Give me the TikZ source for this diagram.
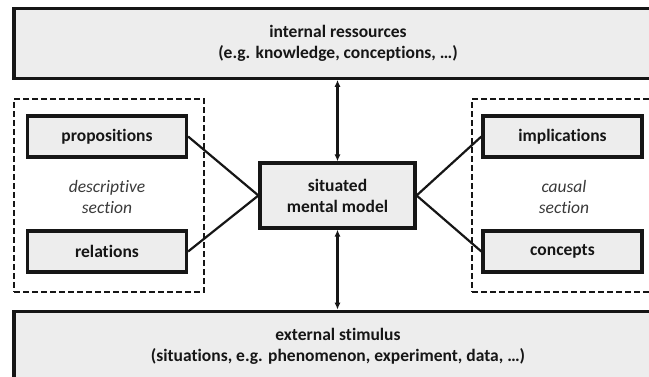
\documentclass[tikz,border=0pt]{standalone}
\usepackage{fontspec}
\setmainfont{Carlito}[RawFeature={-liga}]
\usetikzlibrary{arrows.meta}
\definecolor{boxfill}{HTML}{EDEDED}
\definecolor{ink}{HTML}{161616}
\definecolor{softink}{HTML}{3A3A3A}
\tikzset{
  wide/.style={draw=ink, line width=3.2pt, fill=boxfill, minimum width=648pt, minimum height=69.5pt,
    inner sep=0pt, align=center, font=\bfseries\fontsize{17.5}{21}\selectfont, text=ink},
  itembox/.style={draw=ink, line width=3.2pt, fill=boxfill, minimum width=159pt, minimum height=41pt,
    inner sep=0pt, align=center, font=\bfseries\fontsize{17.5}{21}\selectfont, text=ink},
  centrebox/.style={itembox, minimum width=155pt, minimum height=65pt},
  sectionbox/.style={draw=ink, line width=2.2pt, dash pattern=on 6pt off 3pt, minimum width=190pt, minimum height=193pt, inner sep=0pt},
  sectionlabel/.style={align=center, font=\itshape\fontsize{17.5}{21}\selectfont, text=softink},
  link/.style={draw=ink, line width=2.2pt},
  biarrow/.style={draw=ink, line width=2.2pt, {Latex[length=7pt,width=6pt]}-{Latex[length=7pt,width=6pt]}}
}
\begin{document}
\begin{tikzpicture}[x=1pt,y=-1pt]
\useasboundingbox (0,0) rectangle (649,376);
\clip (0,0) rectangle (649,376);
\fill[white] (0,0) rectangle (649,376);
\node[wide] (top) at (338,43.5) {internal ressources\\(e.g. knowledge, conceptions, …)};
\node[wide] (bot) at (338,346) {external stimulus\\(situations, e.g. phenomenon, experiment, data, …)};
\node[sectionbox] (lsec) at (109,195.5) {};
\node[sectionbox] (rsec) at (567,195.5) {};
\node[itembox] (prop) at (107,136.5) {propositions};
\node[itembox] (rel) at (107,251.5) {relations};
\node[itembox] (impl) at (562.5,136.5) {implications};
\node[itembox] (conc) at (562.5,251.5) {concepts};
\node[centrebox] (ctr) at (337.5,195.5) {situated\\mental model};
\node[sectionlabel] (ldesc) at (107,197) {descriptive\\section};
\node[sectionlabel] (rdesc) at (564,197) {causal\\section};
\draw[link] (prop.east) -- (ctr.west);
\draw[link] (rel.east) -- (ctr.west);
\draw[link] (impl.west) -- (ctr.east);
\draw[link] (conc.west) -- (ctr.east);
\draw[biarrow] (top.south -| ctr.north) -- (ctr.north);
\draw[biarrow] (ctr.south) -- (bot.north -| ctr.south);
\end{tikzpicture}
\end{document}
